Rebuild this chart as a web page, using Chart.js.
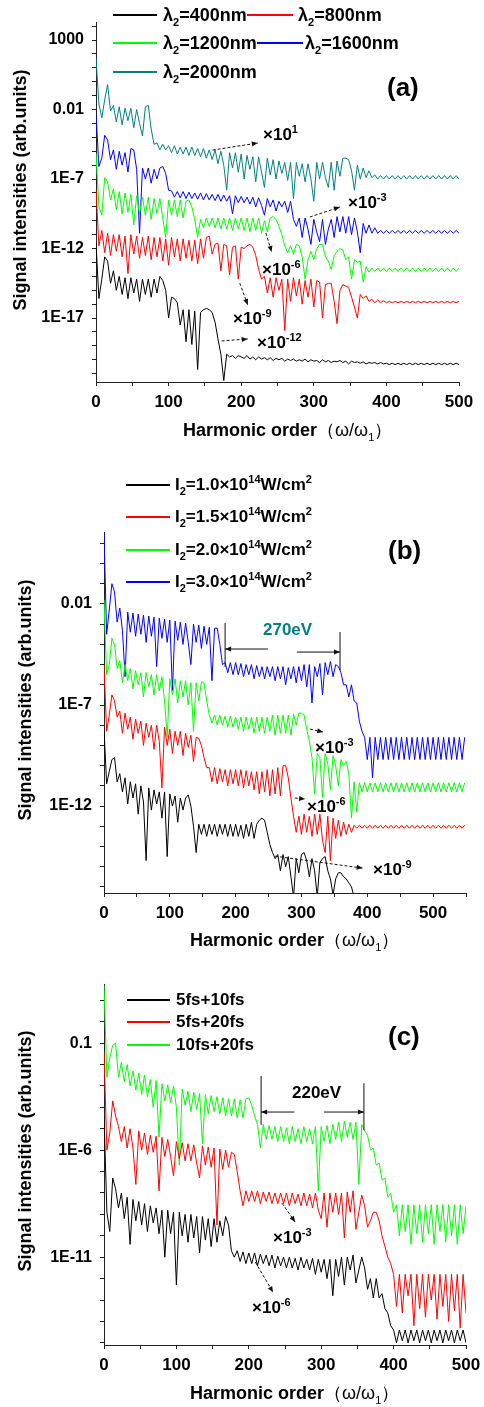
<!DOCTYPE html>
<html>
<head>
<meta charset="utf-8">
<script src="https://cdn.jsdelivr.net/npm/chart.js@4.4.1/dist/chart.umd.min.js"></script>
<style>
  body { margin: 0; background: #fff; }
  #page { position: relative; width: 484px; height: 1407px; overflow: hidden;
          font-family: "Liberation Sans", Arial, Helvetica, sans-serif; font-weight: bold; color: #000; }
  #page canvas { position: absolute; left: 0; }
  .t { position: absolute; white-space: nowrap; line-height: 20px; font-size: 17px; }
  .t sup { font-size: 11px; vertical-align: 7px; line-height: 0; }
  .t sub { font-size: 11px; vertical-align: -5px; line-height: 0; }
  .la { font-size: 18px; }
  .key { position: absolute; height: 0; border-top: 2px solid; margin-top: -1px; }
  .ytitle { position: absolute; font-size: 18px; white-space: nowrap; transform: translate(-50%, -50%) rotate(-90deg); }
  .xt { font-size: 18px; }
  .xt span { font-weight: normal; }
  .pl { font-size: 26px; line-height: 30px; }
</style>
</head>
<body>
<div id="page">
  <canvas id="chartA" width="484" height="465" style="top:0"></canvas>
  <canvas id="chartB" width="484" height="465" style="top:465px"></canvas>
  <canvas id="chartC" width="484" height="477" style="top:930px"></canvas>

  <!-- panel (a) -->
  <div class="key" style="left:113px;top:15px;width:44px;border-color:#000"></div>
  <div class="t la" style="left:163px;top:5px">λ<sub>2</sub>=400nm</div>
  <div class="key" style="left:247px;top:15px;width:46px;border-color:#ff0000"></div>
  <div class="t la" style="left:298px;top:5px">λ<sub>2</sub>=800nm</div>
  <div class="key" style="left:113px;top:43px;width:44px;border-color:#00ff00"></div>
  <div class="t la" style="left:163px;top:33px">λ<sub>2</sub>=1200nm</div>
  <div class="key" style="left:257px;top:43px;width:46px;border-color:#0000ff"></div>
  <div class="t la" style="left:305px;top:33px">λ<sub>2</sub>=1600nm</div>
  <div class="key" style="left:113px;top:72px;width:44px;border-color:#008080"></div>
  <div class="t la" style="left:163px;top:62px">λ<sub>2</sub>=2000nm</div>
  <div class="t pl" style="left:387px;top:72px">(a)</div>
  <div class="t" style="left:263px;top:125px">×10<sup>1</sup></div>
  <div class="t" style="left:348px;top:193px">×10<sup>-3</sup></div>
  <div class="t" style="left:262px;top:260px">×10<sup>-6</sup></div>
  <div class="t" style="left:233px;top:309px">×10<sup>-9</sup></div>
  <div class="t" style="left:257px;top:333px">×10<sup>-12</sup></div>
  <div class="ytitle" style="left:20px;top:190px">Signal intensities (arb.units)</div>
  <div class="t xt" style="left:183px;top:420px">Harmonic order<span>（ω/ω<sub>1</sub>）</span></div>

  <!-- panel (b) -->
  <div class="key" style="left:126px;top:485px;width:44px;border-color:#000"></div>
  <div class="t" style="left:175px;top:475px">I<sub>2</sub>=1.0×10<sup>14</sup>W/cm<sup>2</sup></div>
  <div class="key" style="left:126px;top:517px;width:44px;border-color:#ff0000"></div>
  <div class="t" style="left:175px;top:507px">I<sub>2</sub>=1.5×10<sup>14</sup>W/cm<sup>2</sup></div>
  <div class="key" style="left:126px;top:550px;width:44px;border-color:#00ff00"></div>
  <div class="t" style="left:175px;top:540px">I<sub>2</sub>=2.0×10<sup>14</sup>W/cm<sup>2</sup></div>
  <div class="key" style="left:126px;top:582px;width:44px;border-color:#0000ff"></div>
  <div class="t" style="left:175px;top:572px">I<sub>2</sub>=3.0×10<sup>14</sup>W/cm<sup>2</sup></div>
  <div class="t pl" style="left:388px;top:535px">(b)</div>
  <div class="t" style="left:263px;top:620px;color:#008080">270eV</div>
  <div class="t" style="left:315px;top:738px">×10<sup>-3</sup></div>
  <div class="t" style="left:307px;top:797px">×10<sup>-6</sup></div>
  <div class="t" style="left:373px;top:860px">×10<sup>-9</sup></div>
  <div class="ytitle" style="left:25px;top:700px">Signal intensities (arb.units)</div>
  <div class="t xt" style="left:190px;top:930px">Harmonic order<span>（ω/ω<sub>1</sub>）</span></div>

  <!-- panel (c) -->
  <div class="key" style="left:127px;top:1000px;width:43px;border-color:#000"></div>
  <div class="t" style="left:176px;top:990px">5fs+10fs</div>
  <div class="key" style="left:127px;top:1022px;width:43px;border-color:#ff0000"></div>
  <div class="t" style="left:176px;top:1012px">5fs+20fs</div>
  <div class="key" style="left:127px;top:1045px;width:43px;border-color:#00ff00"></div>
  <div class="t" style="left:176px;top:1035px">10fs+20fs</div>
  <div class="t pl" style="left:388px;top:1021px">(c)</div>
  <div class="t" style="left:292px;top:1083px">220eV</div>
  <div class="t" style="left:273px;top:1228px">×10<sup>-3</sup></div>
  <div class="t" style="left:252px;top:1298px">×10<sup>-6</sup></div>
  <div class="ytitle" style="left:25px;top:1151px">Signal intensities (arb.units)</div>
  <div class="t xt" style="left:190px;top:1383px">Harmonic order<span>（ω/ω<sub>1</sub>）</span></div>
</div>

<script>
// harmonic order spacing of every series below (orders 0, 4, 8, ...)
const STEP = 4;

// values are log10 of the signal intensity

// panel (a): lambda_2 scan
const lam400 = [
  -11.6, -15.6, -14.2, -12.6, -12.9, -14.5, -13.6, -15.0, -14.0, -15.3,
  -14.1, -15.6, -14.1, -15.2, -14.2, -15.8, -14.2, -15.3, -14.2, -15.5,
  -14.2, -15.2, -14.0, -14.3, -15.0, -17.0, -15.5, -15.6, -15.9, -17.5,
  -16.4, -18.7, -16.4, -18.9, -16.5, -20.7, -16.6, -16.4, -16.3, -16.4,
  -16.6, -17.3, -18.5, -19.6, -21.5, -19.6, -19.8, -19.7, -19.9, -19.7,
  -19.8, -19.9, -19.7, -19.95, -19.8, -20.0, -19.8, -19.95, -19.85, -20.0,
  -19.85, -20.05, -19.9, -20.0, -19.9, -20.1, -19.95, -20.05, -19.95, -20.1,
  -20.0, -20.1, -19.95, -20.15, -20.0, -20.1, -20.05, -20.2, -20.0, -20.15,
  -20.05, -20.2, -20.1, -20.15, -20.05, -20.2, -20.1, -20.3, -20.1, -20.2,
  -20.15, -20.25, -20.15, -20.3, -20.2, -20.25, -20.2, -20.3, -20.2, -20.3,
  -20.25, -20.35, -20.25, -20.35, -20.25, -20.35, -20.25, -20.35, -20.25, -20.35,
  -20.25, -20.35, -20.25, -20.35, -20.25, -20.35, -20.25, -20.35, -20.25, -20.35,
  -20.25, -20.35, -20.25, -20.35, -20.25, -20.35
];
const lam800 = [
  -7.7, -11.8, -10.7, -12.3, -10.9, -12.5, -11.0, -12.2, -11.0, -12.6,
  -11.1, -13.8, -11.0, -12.4, -11.1, -12.7, -11.2, -12.5, -11.1, -12.8,
  -11.2, -12.6, -11.2, -12.9, -11.3, -13.2, -11.2, -12.6, -11.3, -12.9,
  -11.3, -12.7, -11.4, -12.9, -11.4, -13.1, -11.3, -12.7, -11.2, -11.1,
  -12.4, -11.7, -11.6, -13.6, -11.7, -11.8, -13.9, -11.9, -11.8, -14.2,
  -11.9, -12.0, -11.8, -11.7, -11.9, -12.5, -13.5, -14.2, -14.0, -15.2,
  -14.1, -15.5, -14.1, -15.0, -14.2, -17.9, -14.2, -15.8, -14.1, -15.4,
  -14.2, -16.0, -14.3, -15.5, -14.2, -16.2, -14.3, -14.4, -17.0, -14.6,
  -14.5, -14.5, -15.8, -17.4, -15.0, -14.6, -14.7, -14.8, -15.5, -16.2,
  -17.0, -15.3, -15.6, -15.4, -15.8, -15.65, -15.9, -15.7, -15.9, -15.75,
  -15.9, -15.8, -15.9, -15.8, -15.9, -15.8, -15.9, -15.8, -15.9, -15.8,
  -15.9, -15.8, -15.9, -15.8, -15.9, -15.8, -15.9, -15.8, -15.9, -15.8,
  -15.9, -15.8, -15.9, -15.8, -15.9, -15.8
];
const lam1200 = [
  -5.15, -9.0, -9.6, -6.9, -7.2, -8.5, -7.7, -9.2, -7.9, -9.5,
  -8.0, -9.4, -8.1, -10.3, -8.2, -9.5, -8.3, -9.6, -8.3, -9.9,
  -8.4, -9.5, -8.4, -9.8, -11.2, -8.5, -9.6, -8.5, -9.7, -8.5,
  -9.8, -8.6, -8.5, -9.0, -9.9, -11.2, -9.9, -10.5, -9.8, -10.4,
  -9.8, -10.5, -9.8, -10.6, -9.8, -10.6, -9.8, -10.7, -9.8, -10.6,
  -9.8, -10.7, -9.8, -10.8, -9.8, -10.7, -9.8, -10.9, -10.0, -10.8,
  -9.8, -9.7, -9.9, -10.4, -11.0, -11.8, -12.3, -11.8, -12.4, -11.7,
  -11.8, -12.6, -14.2, -12.8, -12.2, -12.8, -12.0, -11.7, -11.7, -12.6,
  -12.9, -13.5, -12.5, -12.2, -12.0, -12.1, -12.8, -12.6, -14.2, -12.8,
  -13.0, -12.9, -14.4, -13.3, -13.7, -13.4, -13.65, -13.4, -13.65, -13.4,
  -13.65, -13.4, -13.65, -13.4, -13.65, -13.4, -13.65, -13.4, -13.65, -13.4,
  -13.65, -13.4, -13.65, -13.4, -13.65, -13.4, -13.65, -13.4, -13.65, -13.4,
  -13.65, -13.4, -13.65, -13.4, -13.65, -13.4
];
const lam1600 = [
  -2.3, -6.1, -5.5, -3.85, -4.2, -5.6, -4.9, -6.3, -5.0, -6.0,
  -5.1, -6.5, -4.8, -4.9, -6.3, -10.9, -6.2, -7.0, -6.2, -7.3,
  -6.3, -7.0, -6.2, -6.1, -6.6, -7.8, -7.85, -8.3, -7.9, -8.35,
  -7.9, -8.4, -7.95, -8.4, -8.0, -8.45, -8.0, -8.5, -8.05, -8.5,
  -8.1, -8.55, -8.1, -8.6, -8.15, -8.6, -8.2, -9.5, -8.2, -8.7,
  -8.25, -8.7, -8.3, -8.8, -8.3, -9.0, -8.35, -8.9, -9.6, -8.4,
  -9.0, -8.5, -9.3, -8.6, -9.0, -8.6, -9.4, -8.6, -9.9, -10.4,
  -9.8, -11.2, -9.8, -10.6, -11.7, -9.9, -10.8, -11.5, -9.9, -11.7,
  -10.6, -9.9, -11.2, -9.7, -10.8, -9.7, -10.9, -9.7, -11.0, -9.8,
  -10.8, -12.3, -10.2, -10.9, -10.3, -10.9, -10.5, -10.9, -10.7, -10.9,
  -10.7, -10.9, -10.7, -10.9, -10.7, -10.9, -10.7, -10.9, -10.7, -10.9,
  -10.7, -10.9, -10.7, -10.9, -10.7, -10.9, -10.7, -10.9, -10.7, -10.9,
  -10.7, -10.9, -10.7, -10.9, -10.7, -10.9
];
const lam2000 = [
  1.7, -1.6, -2.6, -1.3, -0.2, -2.1, -1.7, -2.9, -1.8, -3.1,
  -1.9, -2.8, -1.9, -3.3, -2.0, -3.0, -3.9, -1.8, -1.7, -3.4,
  -4.5, -4.4, -4.9, -4.5, -4.9, -4.6, -5.1, -4.6, -5.2, -4.7,
  -5.2, -4.7, -5.3, -4.7, -5.3, -4.8, -5.4, -4.8, -5.5, -4.9,
  -5.6, -4.9, -5.9, -5.0, -6.0, -7.8, -5.1, -6.2, -5.1, -6.5,
  -5.2, -7.0, -5.3, -6.3, -5.4, -7.2, -5.4, -6.5, -7.6, -5.5,
  -6.7, -5.6, -7.0, -5.7, -6.6, -5.8, -7.1, -5.8, -8.4, -5.8,
  -6.8, -5.9, -7.2, -5.9, -7.0, -8.6, -5.8, -7.0, -5.8, -6.9,
  -7.6, -5.8, -7.8, -5.7, -6.8, -5.5, -5.5, -5.6, -6.4, -7.8,
  -6.0, -7.0, -6.2, -6.9, -6.4, -6.9, -6.7, -7.0, -6.75, -7.0,
  -6.75, -7.0, -6.75, -7.0, -6.75, -7.0, -6.75, -7.0, -6.75, -7.0,
  -6.75, -7.0, -6.75, -7.0, -6.75, -7.0, -6.75, -7.0, -6.75, -7.0,
  -6.75, -7.0, -6.75, -7.0, -6.75, -7.0
];

// panel (b): I_2 scan
const int10 = [
  -8.2, -10.9, -10.3, -9.7, -9.6, -10.8, -10.4, -11.3, -10.6, -11.9,
  -10.8, -11.6, -10.9, -12.4, -11.0, -11.8, -14.7, -11.1, -12.2, -11.2,
  -11.9, -11.3, -12.6, -11.3, -14.5, -11.4, -12.0, -11.5, -12.8, -11.6,
  -12.2, -11.6, -11.45, -12.0, -13.0, -14.3, -12.9, -13.4, -12.9, -13.5,
  -12.9, -13.4, -12.9, -13.5, -12.9, -13.4, -12.9, -13.5, -12.9, -13.5,
  -12.9, -13.5, -12.95, -13.6, -12.9, -13.5, -12.8, -13.6, -12.9, -12.7,
  -12.6, -12.7, -13.3, -13.9, -14.3, -14.6, -14.4, -15.2, -14.4, -15.0,
  -14.5, -15.5, -16.5, -14.6, -15.3, -14.4, -14.3, -14.7, -15.5, -14.6,
  -15.2, -16.5, -14.8, -14.6, -14.5, -15.2, -15.6, -16.4, -15.6, -15.3,
  -15.3, -15.5, -15.6, -15.8, -16.0, -16.5, -17.0, -17.0, -17.0, -17.0
];
const int15 = [
  -5.0, -8.3, -7.5, -6.5, -6.8, -7.6, -7.3, -8.4, -7.4, -8.2,
  -7.6, -8.7, -7.7, -8.4, -7.8, -9.0, -7.9, -8.6, -8.0, -9.2,
  -8.0, -8.8, -11.1, -8.1, -9.0, -8.2, -9.4, -8.3, -9.0, -8.3,
  -9.5, -8.4, -9.1, -8.5, -9.8, -8.6, -8.65, -9.0, -9.6, -10.1,
  -10.1, -10.8, -10.1, -10.9, -10.15, -10.8, -10.2, -11.0, -10.2, -10.9,
  -10.2, -11.0, -10.2, -11.1, -10.25, -11.0, -10.3, -11.2, -10.3, -11.4,
  -10.3, -11.3, -10.2, -11.5, -10.2, -11.4, -10.1, -11.5, -10.0, -10.0,
  -10.6, -11.6, -12.5, -13.3, -12.5, -13.4, -12.4, -13.3, -12.5, -13.5,
  -12.4, -13.4, -12.4, -13.7, -14.3, -12.5, -14.7, -12.6, -13.6, -12.7,
  -13.5, -12.8, -13.4, -12.9, -13.3, -12.95, -13.1, -12.95, -13.1, -12.95,
  -13.1, -12.95, -13.1, -12.95, -13.1, -12.95, -13.1, -12.95, -13.1, -12.95,
  -13.1, -12.95, -13.1, -12.95, -13.1, -12.95, -13.1, -12.95, -13.1, -12.95,
  -13.1, -12.95, -13.1, -12.95, -13.1, -12.95, -13.1, -12.95, -13.1, -12.95,
  -13.1, -12.95, -13.1, -12.95, -13.1, -12.95, -13.1, -12.95
];
const int20 = [
  -1.8, -5.5, -5.0, -3.7, -4.0, -5.2, -4.8, -5.9, -5.0, -5.8,
  -5.2, -6.2, -5.3, -6.0, -5.4, -6.6, -5.4, -6.1, -5.5, -6.5,
  -5.5, -6.3, -5.6, -6.8, -8.6, -5.7, -6.5, -5.7, -6.9, -5.8,
  -6.6, -5.8, -7.0, -5.9, -8.3, -5.9, -6.8, -5.85, -5.9, -6.8,
  -7.5, -7.9, -7.5, -8.0, -7.5, -8.0, -7.55, -8.1, -7.55, -8.1,
  -7.6, -8.2, -7.6, -8.3, -7.6, -8.2, -7.6, -8.4, -7.6, -8.3,
  -7.6, -8.4, -7.6, -8.3, -7.5, -8.5, -7.5, -8.4, -7.5, -8.4,
  -7.5, -8.5, -7.45, -8.0, -7.4, -7.4, -7.5, -8.2, -8.8, -9.6,
  -11.4, -9.4, -9.6, -11.6, -9.4, -9.9, -11.2, -9.5, -10.0, -11.0,
  -9.7, -10.0, -9.8, -10.4, -12.6, -10.8, -12.3, -10.85, -11.3, -10.85,
  -11.3, -10.85, -11.3, -10.85, -11.3, -10.85, -11.3, -10.85, -11.3, -10.85,
  -11.3, -10.85, -11.3, -10.85, -11.3, -10.85, -11.3, -10.85, -11.3, -10.85,
  -11.3, -10.85, -11.3, -10.85, -11.3, -10.85, -11.3, -10.85, -11.3, -10.85,
  -11.3, -10.85, -11.3, -10.85, -11.3, -10.85, -11.3, -10.85
];
const int30 = [
  1.5, -3.5, -2.3, -1.0, -1.4, -2.9, -2.2, -3.3, -5.6, -2.4,
  -3.4, -2.45, -3.6, -2.5, -3.5, -2.55, -3.9, -2.6, -3.6, -2.65,
  -5.1, -2.7, -3.7, -2.75, -3.9, -2.8, -6.3, -2.85, -3.8, -2.9,
  -4.0, -2.95, -3.9, -5.0, -3.0, -3.9, -3.05, -4.2, -3.1, -4.0,
  -3.15, -5.8, -3.2, -3.2, -4.0, -5.0, -4.9, -5.4, -4.9, -5.5,
  -4.9, -5.5, -4.95, -5.6, -5.0, -5.5, -5.0, -5.7, -5.05, -5.6,
  -5.1, -5.7, -5.1, -5.6, -5.1, -5.8, -5.1, -5.7, -5.1, -6.0,
  -5.15, -5.7, -5.1, -5.9, -5.1, -5.8, -5.0, -6.1, -5.0, -6.9,
  -5.1, -5.6, -4.95, -6.5, -4.9, -5.5, -4.85, -5.6, -5.0, -5.1,
  -5.4, -6.0, -6.0, -6.6, -6.0, -6.8, -6.9, -7.8, -8.3, -8.6,
  -9.7, -8.6, -10.6, -8.6, -9.7, -8.6, -9.7, -8.6, -9.7, -8.6,
  -9.7, -8.6, -9.7, -8.6, -9.7, -8.6, -9.7, -8.6, -9.7, -8.6,
  -9.7, -8.6, -9.7, -8.6, -9.7, -8.6, -9.7, -8.6, -9.7, -8.6,
  -9.7, -8.6, -9.7, -8.6, -9.7, -8.6, -9.7, -8.6
];

// panel (c): pulse duration combinations
const fs5_10 = [
  -4.4, -8.9, -9.8, -7.3, -7.8, -8.7, -8.0, -9.2, -8.2, -10.4,
  -8.3, -9.3, -8.4, -9.5, -8.5, -9.8, -8.6, -9.4, -8.7, -9.9,
  -8.8, -11.0, -8.8, -9.9, -8.9, -12.3, -8.9, -10.0, -9.0, -10.3,
  -9.0, -10.1, -9.1, -10.8, -9.1, -10.2, -9.2, -10.5, -9.2, -10.3,
  -9.3, -10.0, -9.1, -9.5, -10.7, -11.0, -10.7, -11.2, -10.75, -11.3,
  -10.8, -11.3, -10.8, -11.4, -10.85, -11.3, -10.9, -11.4, -10.9, -11.5,
  -10.95, -11.4, -11.0, -11.5, -11.0, -11.5, -11.05, -11.6, -11.0, -11.5,
  -11.1, -11.6, -11.05, -11.8, -11.1, -11.7, -11.1, -12.0, -11.1, -12.8,
  -11.1, -11.9, -11.0, -12.3, -11.0, -11.6, -10.9, -12.2, -11.6, -11.0,
  -11.5, -12.5, -12.0, -12.9, -12.0, -12.9, -12.7, -13.4, -13.6, -14.2,
  -14.4, -15.0, -14.4, -14.9, -14.4, -15.0, -14.4, -14.9, -14.4, -15.0,
  -14.4, -14.9, -14.4, -15.0, -14.4, -14.9, -14.4, -15.0, -14.4, -14.9,
  -14.4, -15.0, -14.4, -14.9, -14.4, -15.0
];
const fs5_20 = [
  -1.4, -6.0, -5.2, -3.7, -4.4, -4.9, -5.6, -4.9, -5.9, -5.0,
  -5.9, -7.6, -5.1, -6.0, -5.2, -6.2, -5.3, -6.1, -5.35, -7.9,
  -5.4, -6.3, -5.5, -6.3, -7.2, -5.6, -6.4, -5.65, -6.5, -5.7,
  -6.5, -5.75, -6.6, -7.3, -5.8, -6.7, -5.85, -6.8, -5.9, -9.5,
  -5.95, -6.9, -6.0, -6.8, -6.1, -6.2, -7.0, -7.9, -8.6, -7.9,
  -8.4, -7.9, -8.4, -7.9, -8.5, -7.95, -8.4, -7.95, -8.5, -8.0,
  -8.5, -8.0, -8.5, -8.0, -8.6, -8.0, -8.5, -8.05, -8.6, -8.0,
  -8.6, -8.05, -8.7, -8.0, -8.8, -9.2, -8.0, -9.6, -8.0, -8.9,
  -8.0, -9.0, -8.0, -10.1, -7.95, -8.9, -7.9, -9.7, -8.9, -8.1,
  -8.6, -9.6, -9.3, -8.9, -8.9, -9.3, -10.0, -10.5, -11.0, -11.3,
  -11.8, -13.3, -11.8, -13.6, -11.8, -12.8, -11.8, -14.2, -11.8, -13.4,
  -11.8, -13.8, -11.8, -13.0, -11.8, -13.9, -11.8, -13.3, -11.8, -14.0,
  -11.8, -13.5, -11.8, -14.3, -11.8, -13.6
];
const fs10_20 = [
  1.7, -2.6, -1.7, -1.1, -1.0, -2.6, -1.9, -2.8, -2.0, -3.0,
  -2.3, -3.2, -2.4, -3.4, -2.5, -3.5, -2.7, -4.0, -2.75, -5.4,
  -2.9, -3.7, -2.95, -3.8, -3.0, -4.0, -6.7, -3.15, -3.9, -3.25,
  -4.2, -3.3, -4.1, -3.35, -5.7, -3.4, -4.3, -3.45, -4.2, -3.5,
  -4.3, -3.55, -4.4, -3.6, -4.4, -3.6, -4.5, -3.65, -4.5, -3.6,
  -3.55, -3.9, -4.4, -4.8, -5.9, -4.8, -5.5, -4.85, -5.5, -4.9,
  -5.6, -4.9, -5.6, -4.95, -5.7, -4.9, -5.6, -5.0, -5.7, -4.9,
  -5.6, -5.0, -5.7, -4.9, -7.9, -4.9, -5.6, -4.85, -5.7, -4.8,
  -5.5, -4.7, -5.6, -4.65, -5.4, -4.7, -5.5, -4.7, -7.6, -4.8,
  -5.1, -5.3, -6.0, -5.9, -6.7, -6.6, -7.4, -7.3, -8.2, -8.0,
  -8.9, -8.55, -10.0, -8.55, -9.8, -8.55, -10.4, -8.55, -9.9, -8.55,
  -10.3, -8.55, -9.9, -8.55, -10.4, -8.55, -9.8, -8.55, -10.3, -8.55,
  -10.0, -8.55, -10.4, -8.55, -9.9, -8.6
];

// y tick labels (decade exponent -> text)
const yTickExpA = [3, -2, -7, -12, -17];
const yTickTextA = ["1000", "0.01", "1E-7", "1E-12", "1E-17"];
const yTickExpB = [-2, -7, -12];
const yTickTextB = ["0.01", "1E-7", "1E-12"];
const yTickExpC = [-1, -6, -11];
const yTickTextC = ["0.1", "1E-6", "1E-11"];

const FONT = "'Liberation Sans', Arial, Helvetica, sans-serif";

// draws dashed / solid annotation arrows given in (order, log10 intensity)
function arrowPlugin(list) {
  return {
    id: "arrows",
    afterDatasetsDraw(chart) {
      const { ctx, scales } = chart;
      const px = (o) => scales.x.getPixelForValue(o);
      const py = (e) => scales.y.getPixelForValue(Math.pow(10, e));
      ctx.save();
      ctx.strokeStyle = "#111";
      ctx.fillStyle = "#111";
      ctx.lineWidth = 1;
      list.forEach((a) => {
        const x1 = px(a.from[0]), y1 = py(a.from[1]);
        const x2 = px(a.to[0]), y2 = py(a.to[1]);
        ctx.setLineDash(a.dash ? [3, 2] : []);
        ctx.beginPath();
        ctx.moveTo(x1, y1);
        ctx.lineTo(x2, y2);
        ctx.stroke();
        if (a.head) {
          const ang = Math.atan2(y2 - y1, x2 - x1), L = 6, W = 2.5;
          const c = Math.cos(ang), s = Math.sin(ang);
          ctx.setLineDash([]);
          ctx.beginPath();
          ctx.moveTo(x2, y2);
          ctx.lineTo(x2 - L * c + W * s, y2 - L * s - W * c);
          ctx.lineTo(x2 - L * c - W * s, y2 - L * s + W * c);
          ctx.closePath();
          ctx.fill();
        }
      });
      ctx.restore();
    },
  };
}

function toPoints(values) {
  return values.map((v, i) => ({ x: i * STEP, y: Math.pow(10, v) }));
}

function makeChart(id, cfg) {
  const decades = [];
  for (let e = Math.ceil(cfg.yMin); e <= Math.floor(cfg.yMax); e++) decades.push(e);

  return new Chart(document.getElementById(id), {
    type: "line",
    data: {
      datasets: cfg.series.map((s) => ({
        label: s.label,
        data: toPoints(s.values),
        borderColor: s.color,
        backgroundColor: s.color,
        borderWidth: 1,
        pointRadius: 0,
        tension: 0,
      })),
    },
    options: {
      responsive: false,
      animation: false,
      devicePixelRatio: 1,
      events: [],
      layout: { padding: cfg.padding },
      plugins: { legend: { display: false }, tooltip: { enabled: false } },
      scales: {
        x: {
          type: "linear",
          min: 0,
          max: cfg.xMax,
          border: { display: true, color: "#222", width: 1 },
          grid: { drawOnChartArea: false, drawTicks: true, tickLength: 4, color: "#222" },
          ticks: {
            stepSize: 50,
            autoSkip: false,
            maxRotation: 0,
            padding: 6,
            color: "#000",
            font: { family: FONT, size: 17, weight: "bold" },
            callback: (v) => (v % 100 === 0 ? String(v) : ""),
          },
          afterFit: (s) => {
            s.height = cfg.xHeight;
            s.paddingLeft = 0;
            s.paddingRight = 0;
          },
        },
        y: {
          type: "logarithmic",
          min: Math.pow(10, cfg.yMin),
          max: Math.pow(10, cfg.yMax),
          border: { display: true, color: "#222", width: 1 },
          grid: { drawOnChartArea: false, drawTicks: true, tickLength: 4, color: "#222" },
          afterBuildTicks: (s) => {
            s.ticks = decades.map((e) => ({ value: Math.pow(10, e) }));
          },
          ticks: {
            autoSkip: false,
            padding: 8,
            color: "#000",
            font: { family: FONT, size: 16, weight: "bold" },
            callback: (v) => {
              const e = Math.round(Math.log10(v));
              const k = cfg.tickExp.indexOf(e);
              return k >= 0 ? cfg.tickText[k] : "";
            },
          },
          afterFit: (s) => {
            s.width = cfg.yWidth;
            s.paddingTop = 0;
            s.paddingBottom = 0;
          },
        },
      },
    },
    plugins: [arrowPlugin(cfg.arrows)],
  });
}

makeChart("chartA", {
  xMax: 500, yMin: -21.6, yMax: 4.3,
  padding: { left: 0, right: 25, top: 22, bottom: 0 },
  yWidth: 96, xHeight: 83,
  tickExp: yTickExpA, tickText: yTickTextA,
  series: [
    { label: "λ2=400nm", color: "#000000", values: lam400 },
    { label: "λ2=800nm", color: "#ff0000", values: lam800 },
    { label: "λ2=1200nm", color: "#00ff00", values: lam1200 },
    { label: "λ2=1600nm", color: "#0000ff", values: lam1600 },
    { label: "λ2=2000nm", color: "#008080", values: lam2000 },
  ],
  arrows: [
    { from: [160.6, -4.91], to: [222.9, -4.41], dash: true, head: true },
    { from: [294.5, -9.73], to: [335.9, -9.01], dash: true, head: true },
    { from: [234, -10.88], to: [242, -12.25], dash: true, head: true },
    { from: [198, -14.48], to: [209, -16.06], dash: true, head: true },
    { from: [173, -18.65], to: [209, -18.5], dash: true, head: true },
  ],
});

makeChart("chartB", {
  xMax: 550, yMin: -16.3, yMax: 1.56,
  padding: { left: 0, right: 18, top: 67, bottom: 0 },
  yWidth: 104, xHeight: 37,
  tickExp: yTickExpB, tickText: yTickTextB,
  series: [
    { label: "I2=1.0e14", color: "#000000", values: int10 },
    { label: "I2=1.5e14", color: "#ff0000", values: int15 },
    { label: "I2=2.0e14", color: "#00ff00", values: int20 },
    { label: "I2=3.0e14", color: "#0000ff", values: int30 },
  ],
  arrows: [
    { from: [313, -8.19], to: [333, -8.34], dash: true, head: true },
    { from: [290, -11.6], to: [305.5, -11.65], dash: true, head: true },
    { from: [260, -14.48], to: [393, -15.07], dash: true, head: true },
    { from: [184, -2.94], to: [184, -5.12] },
    { from: [358.6, -3.39], to: [358.6, -5.27] },
    { from: [249, -4.23], to: [184, -4.23], head: true },
    { from: [293, -4.38], to: [358.6, -4.38], head: true },
  ],
});

makeChart("chartC", {
  xMax: 500, yMin: -15.1, yMax: 1.76,
  padding: { left: 0, right: 18, top: 54, bottom: 0 },
  yWidth: 104, xHeight: 62,
  tickExp: yTickExpC, tickText: yTickTextC,
  series: [
    { label: "5fs+10fs", color: "#000000", values: fs5_10 },
    { label: "5fs+20fs", color: "#ff0000", values: fs5_20 },
    { label: "10fs+20fs", color: "#00ff00", values: fs10_20 },
  ],
  arrows: [
    { from: [217, -2.54], to: [217, -4.83] },
    { from: [359, -2.87], to: [359, -5.07] },
    { from: [263, -4.22], to: [217, -4.22], head: true },
    { from: [304, -4.22], to: [359, -4.22], head: true },
    { from: [246, -8.48], to: [264, -9.36], dash: true, head: true },
    { from: [209, -11.23], to: [233.5, -12.64], dash: true, head: true },
  ],
});
</script>
</body>
</html>
